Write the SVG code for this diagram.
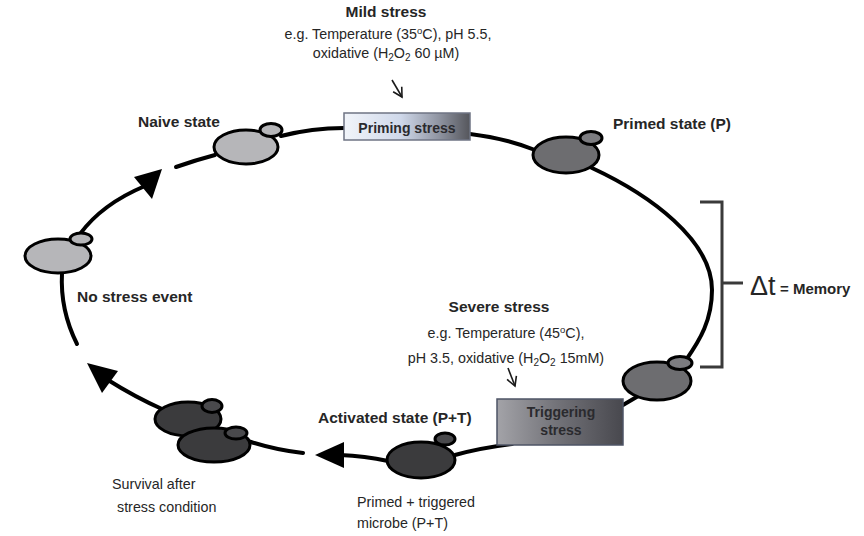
<svg xmlns="http://www.w3.org/2000/svg" width="864" height="536" viewBox="0 0 864 536">
<defs>
<style>
text{font-family:"Liberation Sans",Arial,sans-serif;fill:#262626}
.b{font-weight:bold;font-size:15.5px}
.r{font-size:14.3px}
.bx{font-weight:bold;font-size:14px;fill:#2a2a2e}
.loop{fill:none;stroke:#000;stroke-width:4;stroke-linecap:round}
.head{fill:#000}
.thin{fill:none;stroke:#1a1a1a;stroke-width:1.6}
.c1{fill:#b6b6b9;stroke:#000;stroke-width:3}
.c2{fill:#6d6d70;stroke:#000;stroke-width:3}
.c3{fill:#3b3b3d;stroke:#000;stroke-width:3}
.c3b{fill:#49494c;stroke:#000;stroke-width:3}
.c2b{fill:#7c7c80;stroke:#000;stroke-width:3}
.br{fill:none;stroke:#3a3a3a;stroke-width:3}
</style>
<linearGradient id="gP" x1="0" y1="0" x2="1" y2="0">
<stop offset="0" stop-color="#f2f5fa"/>
<stop offset="0.45" stop-color="#cfd8ea"/>
<stop offset="0.75" stop-color="#9095a2"/>
<stop offset="1" stop-color="#55565c"/>
</linearGradient>
<linearGradient id="gT" x1="0" y1="0" x2="1" y2="0">
<stop offset="0" stop-color="#a3a3a8"/>
<stop offset="0.45" stop-color="#75757b"/>
<stop offset="1" stop-color="#48484e"/>
</linearGradient>
<marker id="v" markerWidth="14" markerHeight="14" refX="10" refY="6" orient="auto" markerUnits="userSpaceOnUse">
<path d="M1,1 L10,6 L1,11" fill="none" stroke="#1a1a1a" stroke-width="1.6"/>
</marker>
</defs>

<g id="connectors">
<path class="loop" d="M281,136 Q312,128 344,128"/>
<path class="loop" d="M470,134 Q505,138 535,150"/>
<path class="loop" d="M592,168 C650,195 712,240 712,290 C712,320 700,340 686,360"/>
<path class="loop" d="M623,405 L640,395"/>
<path class="loop" d="M455,455 Q480,448 512,444"/>
<path class="loop" d="M388,461 Q365,456 340,455"/>
<polygon class="head" points="315,455 344,442 344,468"/>
<path class="loop" d="M248,441 Q275,450 303,453"/>
<path class="loop" d="M162,409 Q135,397 108,380"/>
<polygon class="head" points="87,363 118,371 102,393"/>
<path class="loop" d="M77,344 Q60,310 62,273"/>
<path class="loop" d="M80,234 Q102,204 145,186"/>
<polygon class="head" points="162,169 134,177 152,199"/>
<path class="loop" d="M176,167 Q196,160 215,155"/>
<path class="thin" d="M392,80 L402,97" marker-end="url(#v)"/>
<path class="thin" d="M508,368 L515,386" marker-end="url(#v)"/>
</g>

<g id="naive-top">
<ellipse class="c1" cx="246" cy="147" rx="32" ry="17"/>
<ellipse class="c1" cx="271" cy="130" rx="11" ry="6.5"/>
<text class="b" x="138" y="127">Naive state</text>
</g>

<g id="naive-left">
<ellipse class="c1" cx="58" cy="256" rx="33" ry="17"/>
<ellipse class="c1" cx="81" cy="239" rx="11" ry="6"/>
<text class="b" x="77" y="302">No stress event</text>
</g>

<g id="priming-stress">
<rect x="344" y="113" width="126" height="27" fill="url(#gP)" stroke="#6f7484" stroke-width="1.5"/>
<text class="bx" x="407" y="133" text-anchor="middle">Priming stress</text>
</g>

<g id="mild-stress">
<text class="b" x="386" y="17" text-anchor="middle">Mild stress</text>
<text class="r" x="388" y="39" text-anchor="middle">e.g. Temperature (35<tspan dy="-5" font-size="9.5">o</tspan><tspan dy="5">C), pH 5.5,</tspan></text>
<text class="r" x="386" y="58" text-anchor="middle">oxidative (H<tspan dy="3" font-size="10">2</tspan><tspan dy="-3">O</tspan><tspan dy="3" font-size="10">2</tspan><tspan dy="-3"> 60 µM)</tspan></text>
</g>

<g id="primed">
<ellipse class="c2" cx="566" cy="155" rx="33" ry="18"/>
<ellipse class="c2b" cx="591" cy="138" rx="11" ry="6.5"/>
<text class="b" x="613" y="129">Primed state (P)</text>
</g>

<g id="memory">
<path class="br" d="M700,202 L722,202 L722,367 L700,367"/>
<path class="br" d="M722,283 L743,283"/>
<text x="750" y="295" font-size="27" fill="#262626">Δt</text>
<text x="780" y="294" font-size="15" font-weight="bold">= Memory</text>
</g>

<g id="primed-lower">
<ellipse class="c2" cx="657" cy="381" rx="34" ry="19"/>
<ellipse class="c2b" cx="680" cy="363" rx="12" ry="6.5"/>
</g>

<g id="severe-stress">
<text class="b" x="499" y="312" text-anchor="middle">Severe stress</text>
<text class="r" x="506" y="338" text-anchor="middle">e.g. Temperature (45<tspan dy="-5" font-size="9.5">o</tspan><tspan dy="5">C),</tspan></text>
<text class="r" x="506" y="363" text-anchor="middle">pH 3.5, oxidative (H<tspan dy="3" font-size="10">2</tspan><tspan dy="-3">O</tspan><tspan dy="3" font-size="10">2</tspan><tspan dy="-3"> 15mM)</tspan></text>
</g>

<g id="triggering-stress">
<rect x="497" y="399" width="126" height="46" fill="url(#gT)" stroke="#4e5466" stroke-width="1.5"/>
<text class="bx" x="561" y="417" text-anchor="middle">Triggering</text>
<text class="bx" x="561" y="435" text-anchor="middle">stress</text>
</g>

<g id="activated">
<ellipse class="c3" cx="421" cy="460" rx="34" ry="18"/>
<ellipse class="c3b" cx="445" cy="439" rx="10" ry="6"/>
<text class="b" x="318" y="423">Activated state (P+T)</text>
<text class="r" x="357" y="507">Primed + triggered</text>
<text class="r" x="357" y="528">microbe (P+T)</text>
</g>

<g id="survival">
<ellipse class="c3" cx="188" cy="419" rx="33" ry="17"/>
<ellipse class="c3b" cx="212" cy="406" rx="10" ry="6.5"/>
<ellipse class="c3" cx="214" cy="445" rx="36" ry="17"/>
<ellipse class="c3b" cx="236" cy="433" rx="11" ry="6"/>
<text class="r" x="112" y="489">Survival after</text>
<text class="r" x="117" y="512">stress condition</text>
</g>
</svg>
